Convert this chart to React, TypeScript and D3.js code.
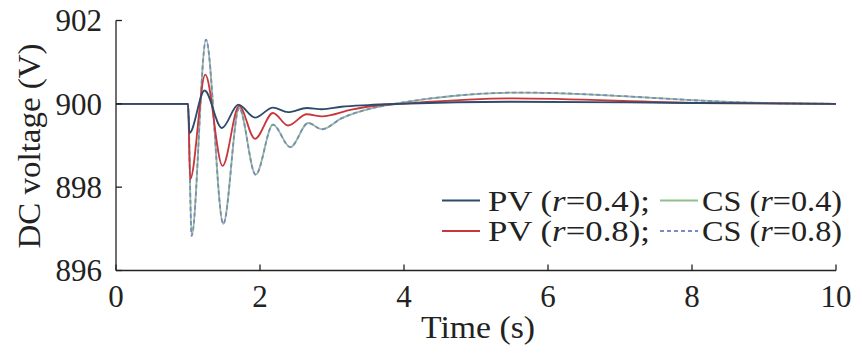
import React from "react";
import * as d3 from "d3";

const xTicks = [0, 2, 4, 6, 8, 10];
const yTicks = [896, 898, 900, 902];

const pv04T = [0, 1.0, 1.02, 1.23, 1.47, 1.7, 1.93, 2.18, 2.39, 2.65, 2.86, 3.13, 3.5, 3.94, 5.5, 8.0, 10];
const pv04V = [900, 900, 899.3, 900.32, 899.42, 899.98, 899.67, 899.91, 899.8, 899.9, 899.87, 899.93, 899.97, 900.0, 900.05, 900.02, 900.0];

const pv08T = [0, 1.0, 1.03, 1.24, 1.48, 1.71, 1.93, 2.18, 2.39, 2.65, 2.86, 3.27, 3.62, 3.94, 5.5, 8.1, 10];
const pv08V = [900, 900, 898.19, 900.7, 898.51, 899.95, 899.16, 899.78, 899.48, 899.75, 899.7, 899.86, 899.96, 900.0, 900.13, 900.02, 900.0];

const cs04T = [0, 1.0, 1.05, 1.25, 1.49, 1.71, 1.94, 2.18, 2.42, 2.67, 2.86, 3.13, 3.62, 3.94, 5.6, 9.0, 10];
const cs04V = [900, 900, 896.83, 901.54, 897.12, 899.9, 898.3, 899.5, 898.96, 899.54, 899.39, 899.65, 899.92, 900.02, 900.27, 900.02, 900.0];

const cs08T = cs04T;
const cs08V = cs04V;

const FONT = "'Times New Roman', 'Liberation Serif', serif";

export default function App() {
  const W = 854, H = 350;
  const x = d3.scaleLinear().domain([0, 10]).range([116, 836]);
  const y = d3.scaleLinear().domain([896, 902]).range([270.5, 20.5]);
  const line = d3
    .line<[number, number]>()
    .x((d) => x(d[0]))
    .y((d) => y(d[1]))
    .curve(d3.curveMonotoneX);
  const mk = (t: number[], v: number[]) => line(t.map((tt, i) => [tt, v[i]] as [number, number])) || "";

  const series = [
    { t: cs04T, v: cs04V, color: "#8dc08a", dash: undefined },
    { t: cs08T, v: cs08V, color: "#7f88c4", dash: "4,3" },
    { t: pv08T, v: pv08V, color: "#c8373c", dash: undefined },
    { t: pv04T, v: pv04V, color: "#2d4b6c", dash: undefined },
  ];

  const legend = [
    { lx: 442, tx: 488, ly: 200.5, color: "#2d4b6c", dash: undefined, label: "PV", r: "0.4", semi: true, len: 162 },
    { lx: 442, tx: 488, ly: 231, color: "#c8373c", dash: undefined, label: "PV", r: "0.8", semi: true, len: 162 },
    { lx: 660, tx: 702, ly: 200.5, color: "#8dc08a", dash: undefined, label: "CS", r: "0.4", semi: false, len: 140 },
    { lx: 660, tx: 702, ly: 231, color: "#7f88c4", dash: "4,3", label: "CS", r: "0.8", semi: false, len: 140 },
  ];

  return (
    <svg width={W} height={H} style={{ position: "absolute", left: 0, top: 0, background: "#fff" }} fontFamily={FONT}>
      {series.map((s, i) => (
        <path key={i} d={mk(s.t, s.v)} fill="none" stroke={s.color} strokeWidth={1.8} strokeDasharray={s.dash} />
      ))}
      <line x1={x(0)} x2={x(0)} y1={y(902)} y2={y(896)} stroke="#222" strokeWidth={1.3} />
      <line x1={x(0)} x2={x(10)} y1={y(896)} y2={y(896)} stroke="#222" strokeWidth={1.3} />
      {yTicks.map((v) => (
        <g key={v}>
          <line x1={x(0)} x2={x(0) + 6} y1={y(v)} y2={y(v)} stroke="#222" strokeWidth={1.3} />
          <text x={102} y={y(v)} dy="0.35em" textAnchor="end" fontSize={31} fill="#222">
            {String(v)}
          </text>
        </g>
      ))}
      {xTicks.map((t) => (
        <g key={t}>
          <line x1={x(t)} x2={x(t)} y1={y(896)} y2={y(896) - 6} stroke="#222" strokeWidth={1.3} />
          <text x={x(t)} y={307} textAnchor="middle" fontSize={31} fill="#222">
            {String(t)}
          </text>
        </g>
      ))}
      <text x={478} y={338} textAnchor="middle" fontSize={32} fill="#222" textLength={114} lengthAdjust="spacingAndGlyphs">
        Time (s)
      </text>
      <text transform="translate(40,146) rotate(-90)" textAnchor="middle" fontSize={31} fill="#222" textLength={205} lengthAdjust="spacingAndGlyphs">
        DC voltage (V)
      </text>
      {legend.map((l, i) => (
        <g key={i}>
          <line x1={l.lx} x2={l.lx + 38} y1={l.ly} y2={l.ly} stroke={l.color} strokeWidth={1.8} strokeDasharray={l.dash} />
          <text x={l.tx} y={l.ly} dy="0.35em" fontSize={29} fill="#222" textLength={l.len} lengthAdjust="spacingAndGlyphs">
            {`${l.label} (`}
            <tspan fontStyle="italic">r</tspan>
            {`=${l.r})${l.semi ? ";" : ""}`}
          </text>
        </g>
      ))}
    </svg>
  );
}
